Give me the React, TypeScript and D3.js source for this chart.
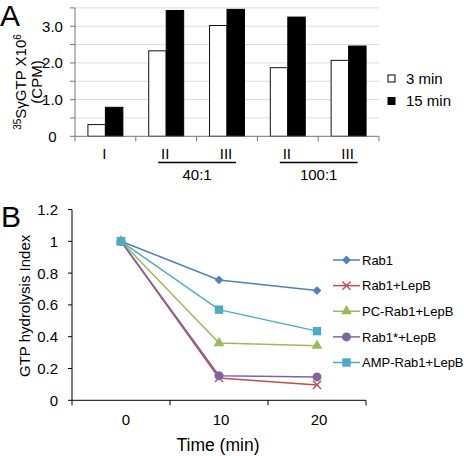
import React from "react";
import * as d3 from "d3";

// ---------- Panel A data ----------
const categoriesA = ["I", "II", "III", "II", "III"];
const seriesNamesA = ["3 min", "15 min"];
const values3min = [0.32, 2.33, 3.02, 1.87, 2.07];
const values15min = [0.79, 3.43, 3.46, 3.25, 2.46];
const yTickLabelsA = [0, 1, 2, 3];
const ratioGroups = [
  { label: "40:1", from: 1, to: 2 },
  { label: "100:1", from: 3, to: 4 },
];

// ---------- Panel B data ----------
const timesB = ["0", "10", "20"];
const seriesNamesB = ["Rab1", "Rab1+LepB", "PC-Rab1+LepB", "Rab1*+LepB", "AMP-Rab1+LepB"];
const rab1 = [1, 0.757, 0.69];
const rab1LepB = [1, 0.14, 0.097];
const pcRab1LepB = [1, 0.36, 0.343];
const rab1StarLepB = [1, 0.155, 0.147];
const ampRab1LepB = [1, 0.57, 0.435];
const yTicksB = [0, 0.2, 0.4, 0.6, 0.8, 1, 1.2];

const colorsB = ["#4F81BD", "#C0504D", "#9BBB59", "#8064A2", "#4BACC6"];
const markersB = ["diamond", "x", "triangle", "circle", "square"];

const FONT = "'Liberation Sans', Arial, sans-serif";

function Marker({ type, x, y, color }: { type: string; x: number; y: number; color: string }) {
  if (type === "circle") return <circle cx={x} cy={y} r={4.5} fill={color} />;
  if (type === "square") return <rect x={x - 4.2} y={y - 4.2} width={8.4} height={8.4} fill={color} />;
  if (type === "diamond")
    return <rect x={-3.1} y={-3.1} width={6.2} height={6.2} fill={color} transform={`translate(${x},${y}) rotate(45)`} />;
  if (type === "x") {
    const p = d3.symbol().type(d3.symbolX).size(45)() as string;
    return <path d={p} transform={`translate(${x},${y})`} stroke={color} strokeWidth={1.4} fill="none" />;
  }
  const p = d3.symbol().type(d3.symbolTriangle).size(50)() as string;
  return <path d={p} transform={`translate(${x},${y})`} fill={color} />;
}

export default function App() {
  // Panel A scales
  const xA = d3.scaleBand<number>().domain(d3.range(categoriesA.length)).range([75, 379]).padding(0);
  const xInner = d3.scaleBand<string>().domain(seriesNamesA).range([0, xA.bandwidth()]).paddingInner(0).paddingOuter(0.74);
  const yA = d3.scaleLinear().domain([0, 3.5]).range([136.3, 7.9]);
  const gridA = d3.range(0.5, 3.51, 0.5);
  const minorA = d3.range(0, 3.51, 0.5);
  const axisA = "#767676";

  // Panel B scales
  const xB = d3.scaleBand<string>().domain(timesB).range([72, 366]).padding(0);
  const yB = d3.scaleLinear().domain([0, 1.2]).range([400.3, 209.5]);
  const seriesB = [rab1, rab1LepB, pcRab1LepB, rab1StarLepB, ampRab1LepB];
  const line = d3
    .line<number>()
    .x((_, i) => (xB(timesB[i]) as number) + xB.bandwidth() / 2)
    .y((d) => yB(d));

  const legendRowsB = d3.scalePoint<string>().domain(seriesNamesB).range([260, 362.5]);

  return (
    <svg width={464} height={456} style={{ position: "absolute", left: 0, top: 0, background: "#fff" }} fontFamily={FONT}>
      {/* ================= Panel A ================= */}
      <text x={0} y={26} fontSize={30}>A</text>
      {/* gridlines */}
      {gridA.map((v) => (
        <line key={v} x1={75} x2={379} y1={yA(v)} y2={yA(v)} stroke="#dcdcdc" strokeWidth={1} />
      ))}
      {/* bars */}
      {categoriesA.map((_, i) => {
        const x0 = xA(i) as number;
        return (
          <g key={i}>
            <rect
              x={x0 + (xInner("3 min") as number)}
              y={yA(values3min[i])}
              width={xInner.bandwidth()}
              height={yA(0) - yA(values3min[i])}
              fill="#fff"
              stroke="#111"
              strokeWidth={1}
            />
            <rect
              x={x0 + (xInner("15 min") as number)}
              y={yA(values15min[i])}
              width={xInner.bandwidth()}
              height={yA(0) - yA(values15min[i])}
              fill="#000"
              stroke="#000"
              strokeWidth={1}
            />
          </g>
        );
      })}
      {/* y axis */}
      <line x1={75} x2={75} y1={yA(3.5)} y2={yA(0)} stroke={axisA} strokeWidth={1} />
      {minorA.map((v) => (
        <line key={v} x1={70} x2={75} y1={yA(v)} y2={yA(v)} stroke={axisA} strokeWidth={1} />
      ))}
      {yTickLabelsA.map((v) => (
        <text key={v} x={52.5} y={yA(v)} dy="0.36em" fontSize={15} textAnchor="middle">
          {v === 0 ? "0" : v.toFixed(1)}
        </text>
      ))}
      {/* x axis */}
      <line x1={75} x2={379} y1={yA(0)} y2={yA(0)} stroke={axisA} strokeWidth={1} />
      {d3.range(categoriesA.length + 1).map((i) => {
        const x = i < categoriesA.length ? (xA(i) as number) : 379;
        return <line key={i} x1={x} x2={x} y1={yA(0)} y2={yA(0) + 5} stroke={axisA} strokeWidth={1} />;
      })}
      {categoriesA.map((c, i) => (
        <text key={i} x={(xA(i) as number) + xA.bandwidth() / 2 - 1} y={159} fontSize={15} textAnchor="middle">
          {c}
        </text>
      ))}
      {ratioGroups.map((g) => {
        const xs = (xA(g.from) as number) + xA.bandwidth() / 2 - 8;
        const xe = (xA(g.to) as number) + xA.bandwidth() / 2 + 9;
        return (
          <g key={g.label}>
            <line x1={xs} x2={xe} y1={162.5} y2={162.5} stroke="#000" strokeWidth={1.3} />
            <text x={(xs + xe) / 2} y={180} fontSize={15} textAnchor="middle">
              {g.label}
            </text>
          </g>
        );
      })}
      {/* y label A */}
      <g transform="translate(26,82) rotate(-90)">
        <text x={0} y={0} fontSize={15} textAnchor="middle">
          <tspan fontSize={10} dy={-5}>35</tspan>
          <tspan dy={5}>SγGTP X10</tspan>
          <tspan fontSize={10} dy={-5}>6</tspan>
        </text>
      </g>
      <g transform="translate(42,82) rotate(-90)">
        <text x={0} y={0} fontSize={15} textAnchor="middle">(CPM)</text>
      </g>
      {/* legend A */}
      {seriesNamesA.map((n, i) => (
        <g key={n} transform={`translate(388,${78.5 + i * 22.5})`}>
          <rect x={0} y={-3.5} width={7} height={7} fill={i === 0 ? "#fff" : "#000"} stroke="#000" strokeWidth={1} />
          <text x={18} y={0} dy="0.36em" fontSize={15}>
            {n}
          </text>
        </g>
      ))}

      {/* ================= Panel B ================= */}
      <text x={1} y={227} fontSize={30}>B</text>
      {/* axes */}
      <line x1={72} x2={72} y1={yB(1.2)} y2={yB(0)} stroke="#000" strokeWidth={1} />
      {yTicksB.map((v) => (
        <g key={v}>
          <line x1={68} x2={72} y1={yB(v)} y2={yB(v)} stroke="#000" strokeWidth={1} />
          <text x={58} y={yB(v)} dy="0.36em" fontSize={15} textAnchor="end">
            {String(v)}
          </text>
        </g>
      ))}
      <line x1={72} x2={366} y1={yB(0)} y2={yB(0)} stroke="#000" strokeWidth={1} />
      {d3.range(timesB.length + 1).map((i) => {
        const x = i < timesB.length ? (xB(timesB[i]) as number) : 366;
        return <line key={i} x1={x} x2={x} y1={yB(0)} y2={yB(0) + 5} stroke="#000" strokeWidth={1} />;
      })}
      {timesB.map((t, i) => (
        <text key={t} x={(xB(t) as number) + xB.bandwidth() / 2 + (i === 0 ? 5 : 2)} y={425} fontSize={15} textAnchor="middle">
          {t}
        </text>
      ))}
      <text x={218} y={451} fontSize={17.5} textAnchor="middle">Time (min)</text>
      <g transform={`translate(30,${yB(0.6) + 1}) rotate(-90)`}>
        <text x={0} y={0} fontSize={15} textAnchor="middle">GTP hydrolysis Index</text>
      </g>
      {/* series */}
      {seriesB.map((s, k) => (
        <g key={k}>
          <path d={line(s) as string} fill="none" stroke={colorsB[k]} strokeWidth={1.5} />
          {s.map((v, i) => (
            <Marker key={i} type={markersB[k]} x={(xB(timesB[i]) as number) + xB.bandwidth() / 2} y={yB(v)} color={colorsB[k]} />
          ))}
        </g>
      ))}
      {/* legend B */}
      {seriesNamesB.map((n, k) => {
        const y = legendRowsB(n) as number;
        return (
          <g key={n}>
            <line x1={333} x2={360} y1={y} y2={y} stroke={colorsB[k]} strokeWidth={1.5} />
            <Marker type={markersB[k]} x={346.5} y={y} color={colorsB[k]} />
            <text x={362} y={y} dy="0.36em" fontSize={13}>
              {n}
            </text>
          </g>
        );
      })}
    </svg>
  );
}
